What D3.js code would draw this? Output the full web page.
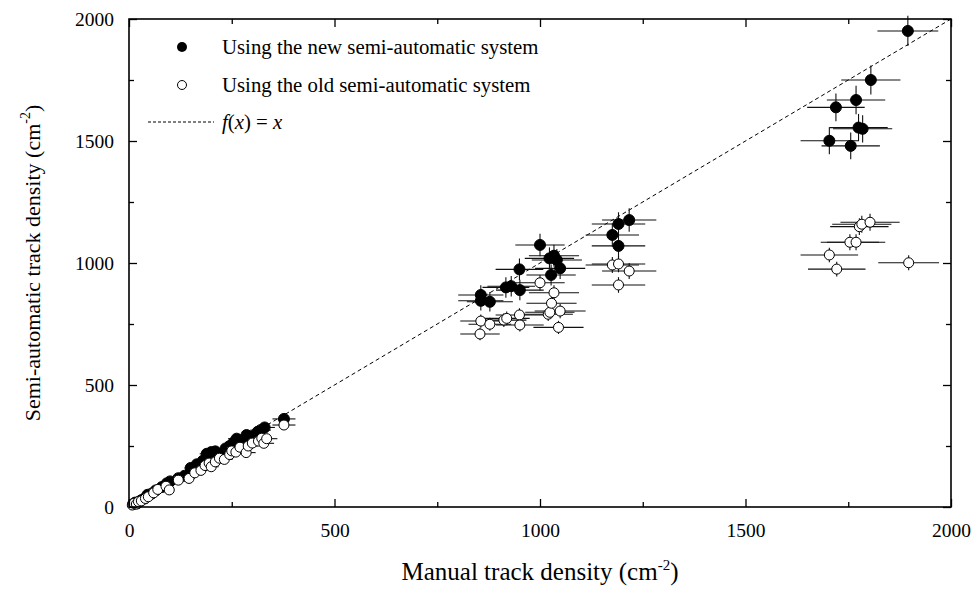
<!DOCTYPE html>
<html>
<head>
<meta charset="utf-8">
<script src="https://cdn.jsdelivr.net/npm/d3@7"></script>
<style>
  body { margin: 0; background: #fff; }
  text { font-family: "Liberation Serif", "Times New Roman", serif; fill: #000; }
</style>
</head>
<body>
<div id="chart"></div>
<script>
// new semi-automatic system (filled)
const newManual = [10,15,20,25,30,38,45,55,65,80,92,100,120,135,150,165,180,189,200,210,220,235,245,255,262,275,286,300,313,320,330,377,
  856,856,878,917,930,950,951,1000,1023,1027,1034,1041,1049,1176,1191,1191,1217,
  1704,1720,1756,1769,1775,1785,1805,1895];
const newSemi = [12,18,15,22,28,35,50,55,68,82,97,105,118,128,160,175,190,218,225,228,210,240,250,265,280,270,295,290,308,315,326,361,
  869,845,841,900,905,974,889,1074,1019,951,1030,1012,978,1115,1160,1070,1176,
  1501,1638,1480,1668,1555,1550,1750,1951];
const newManualErr = [5,5,6,6,7,8,8,9,10,11,12,12,13,14,15,16,17,17,18,18,19,20,20,21,21,22,23,24,24,25,25,28,
  55,55,56,57,58,58,58,60,60,60,61,61,61,65,65,65,66,
  70,70,71,71,71,72,72,74];
const newSemiErr = [4,4,4,5,5,6,6,7,7,8,8,9,9,9,10,10,11,12,12,12,12,13,13,13,14,14,14,14,15,15,15,16,
  40,40,40,42,42,44,42,46,45,43,45,45,44,48,48,46,48,
  55,57,55,58,56,56,59,62];

// old semi-automatic system (open)
const oldManual = [8,12,18,23,30,40,47,60,70,90,98,120,146,160,175,185,195,200,210,220,232,245,250,260,270,285,290,300,315,323,328,335,377,
  854,856,878,912,919,950,951,1000,1020,1024,1028,1034,1045,1049,1176,1191,1191,1217,
  1704,1722,1754,1769,1777,1783,1803,1897];
const oldSemi = [8,15,12,22,25,35,42,58,72,85,70,110,117,140,150,170,180,165,185,200,195,215,230,225,245,223,250,262,270,282,261,280,336,
  709,762,749,766,773,787,746,919,790,798,835,878,736,803,992,996,910,967,
  1033,975,1085,1085,1149,1159,1167,1001];
const oldManualErr = [5,5,6,6,7,8,8,9,10,11,12,13,14,15,16,17,17,18,18,19,20,20,21,21,22,23,23,24,25,25,25,26,28,
  48,50,52,55,56,58,58,60,60,60,61,61,61,62,65,65,65,66,
  70,70,71,71,71,72,72,74];
const oldSemiErr = [3,3,3,4,4,5,5,6,6,7,6,7,8,8,9,9,9,9,10,10,10,10,11,11,11,10,11,12,12,12,12,12,14,
  26,27,27,28,28,28,27,32,28,28,30,31,27,29,33,34,32,33,
  30,30,33,33,34,35,35,31];

const majorTicks = [0, 500, 1000, 1500, 2000];
const minorTicks = [250, 750, 1250, 1750];

const width = 974, height = 589;
const pLeft = 129, pRight = 951, pTop = 19, pBottom = 507;

const svg = d3.select("#chart").append("svg")
  .attr("width", width)
  .attr("height", height);

const x = d3.scaleLinear().domain([0, 2000]).range([pLeft, pRight]);
const y = d3.scaleLinear().domain([0, 2000]).range([pBottom, pTop]);

function pts(mx, sy, mxe, sye) {
  return mx.map(function(d, i) { return {x: d, y: sy[i], xe: mxe[i], ye: sye[i]}; });
}
const newPts = pts(newManual, newSemi, newManualErr, newSemiErr);
const oldPts = pts(oldManual, oldSemi, oldManualErr, oldSemiErr);

// f(x) = x
svg.append("line")
  .attr("x1", x(0)).attr("y1", y(0))
  .attr("x2", x(2000)).attr("y2", y(2000))
  .attr("stroke", "#000")
  .attr("stroke-width", 1)
  .attr("stroke-dasharray", "4,3");

function drawSeries(data, filled) {
  const g = svg.append("g");
  g.selectAll(".ex").data(data).enter().append("line")
    .attr("x1", d => x(d.x - d.xe)).attr("x2", d => x(d.x + d.xe))
    .attr("y1", d => y(d.y)).attr("y2", d => y(d.y))
    .attr("stroke", "#111").attr("stroke-width", 1.1);
  g.selectAll(".ey").data(data).enter().append("line")
    .attr("x1", d => x(d.x)).attr("x2", d => x(d.x))
    .attr("y1", d => y(d.y - d.ye)).attr("y2", d => y(d.y + d.ye))
    .attr("stroke", "#111").attr("stroke-width", 1.1);
  g.selectAll("circle").data(data).enter().append("circle")
    .attr("cx", d => x(d.x)).attr("cy", d => y(d.y))
    .attr("r", filled ? 5.5 : 5)
    .attr("fill", filled ? "#000" : "#fff")
    .attr("stroke", "#000")
    .attr("stroke-width", 1);
}
drawSeries(newPts, true);
drawSeries(oldPts, false);

// axes: ticks pointing inward, mirrored on top and right
function styleAxis(g) {
  g.select(".domain").remove();
  g.selectAll(".tick line").attr("stroke", "#000").attr("stroke-width", 1.3);
  g.selectAll("text").style("font-size", "19.5px").style("font-family", "Liberation Serif");
}
svg.append("g").attr("transform", "translate(0," + pBottom + ")")
  .call(d3.axisBottom(x).tickValues(majorTicks).tickSize(-8).tickPadding(16).tickFormat(d3.format("d")))
  .call(styleAxis);
svg.append("g").attr("transform", "translate(0," + pBottom + ")")
  .call(d3.axisBottom(x).tickValues(minorTicks).tickSize(-5).tickFormat(""))
  .call(styleAxis);
svg.append("g").attr("transform", "translate(0," + pTop + ")")
  .call(d3.axisTop(x).tickValues(majorTicks).tickSize(-8).tickFormat(""))
  .call(styleAxis);
svg.append("g").attr("transform", "translate(0," + pTop + ")")
  .call(d3.axisTop(x).tickValues(minorTicks).tickSize(-5).tickFormat(""))
  .call(styleAxis);
svg.append("g").attr("transform", "translate(" + pLeft + ",0)")
  .call(d3.axisLeft(y).tickValues(majorTicks).tickSize(-8).tickPadding(15).tickFormat(d3.format("d")))
  .call(styleAxis);
svg.append("g").attr("transform", "translate(" + pLeft + ",0)")
  .call(d3.axisLeft(y).tickValues(minorTicks).tickSize(-5).tickFormat(""))
  .call(styleAxis);
svg.append("g").attr("transform", "translate(" + pRight + ",0)")
  .call(d3.axisRight(y).tickValues(majorTicks).tickSize(-8).tickFormat(""))
  .call(styleAxis);
svg.append("g").attr("transform", "translate(" + pRight + ",0)")
  .call(d3.axisRight(y).tickValues(minorTicks).tickSize(-5).tickFormat(""))
  .call(styleAxis);

// frame
svg.append("rect")
  .attr("x", pLeft).attr("y", pTop)
  .attr("width", pRight - pLeft).attr("height", pBottom - pTop)
  .attr("fill", "none").attr("stroke", "#000").attr("stroke-width", 1.6);

// axis titles
const xt = svg.append("text")
  .attr("x", (pLeft + pRight) / 2).attr("y", 580)
  .attr("text-anchor", "middle")
  .style("font-size", "25px");
xt.append("tspan").text("Manual track density (cm");
xt.append("tspan").attr("dy", -10).style("font-size", "15px").text("-2");
xt.append("tspan").attr("dy", 10).text(")");

const yt = svg.append("text")
  .attr("transform", "translate(40," + ((pTop + pBottom) / 2) + ") rotate(-90)")
  .attr("text-anchor", "middle")
  .style("font-size", "22px");
yt.append("tspan").text("Semi-automatic track density (cm");
yt.append("tspan").attr("dy", -10).style("font-size", "14px").text("-2");
yt.append("tspan").attr("dy", 10).text(")");

// legend
const leg = svg.append("g");
leg.append("circle").attr("cx", 182).attr("cy", 47).attr("r", 5).attr("fill", "#000");
leg.append("text").attr("x", 222).attr("y", 54).style("font-size", "20.8px")
  .text("Using the new semi-automatic system");
leg.append("circle").attr("cx", 182).attr("cy", 85).attr("r", 4.5)
  .attr("fill", "#fff").attr("stroke", "#000").attr("stroke-width", 1);
leg.append("text").attr("x", 222).attr("y", 92).style("font-size", "20.8px")
  .text("Using the old semi-automatic system");
leg.append("line").attr("x1", 148).attr("x2", 214).attr("y1", 122).attr("y2", 122)
  .attr("stroke", "#000").attr("stroke-width", 1).attr("stroke-dasharray", "3,2");
const fx = leg.append("text").attr("x", 222).attr("y", 129).style("font-size", "20.8px");
fx.append("tspan").style("font-style", "italic").text("f");
fx.append("tspan").text("(");
fx.append("tspan").style("font-style", "italic").text("x");
fx.append("tspan").text(") = ");
fx.append("tspan").style("font-style", "italic").text("x");
</script>
</body>
</html>
